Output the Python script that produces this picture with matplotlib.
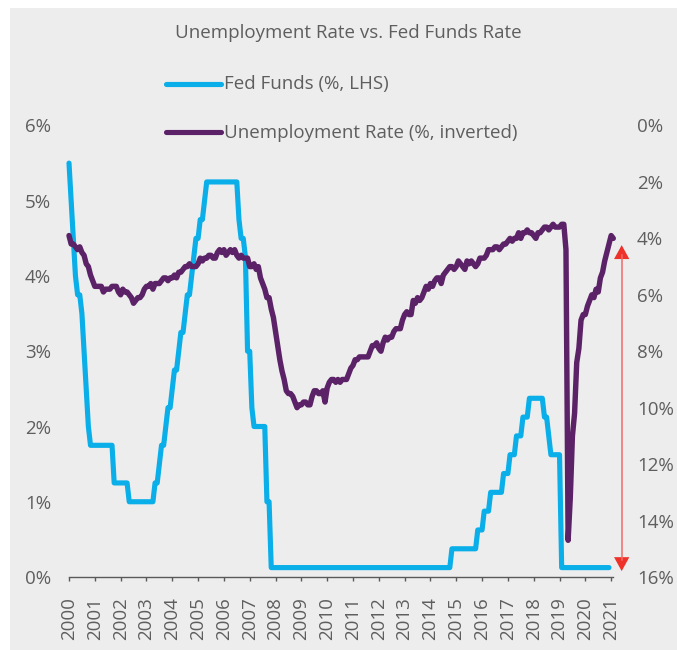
import matplotlib
matplotlib.use("Agg")
import matplotlib.pyplot as plt
from matplotlib.patches import Rectangle
from matplotlib.lines import Line2D
import numpy as np

plt.rcParams["font.family"] = ["Open Sans", "DejaVu Sans"]

# ---- data (monthly points, one tick per 12 months) ----
years = [str(y) for y in range(2000, 2022)]

# US unemployment rate, %, monthly (Dec-2000 ... Jan-2022)
unemp_2000 = [3.9]
unemp_2001 = [4.2, 4.2, 4.3, 4.4, 4.3, 4.5, 4.6, 4.9, 5.0, 5.3, 5.5, 5.7]
unemp_2002 = [5.7, 5.7, 5.7, 5.9, 5.8, 5.8, 5.8, 5.7, 5.7, 5.7, 5.9, 6.0]
unemp_2003 = [5.8, 5.9, 5.9, 6.0, 6.1, 6.3, 6.2, 6.1, 6.1, 6.0, 5.8, 5.7]
unemp_2004 = [5.7, 5.6, 5.8, 5.6, 5.6, 5.6, 5.5, 5.4, 5.4, 5.5, 5.4, 5.4]
unemp_2005 = [5.3, 5.4, 5.2, 5.2, 5.1, 5.0, 5.0, 4.9, 5.0, 5.0, 5.0, 4.9]
unemp_2006 = [4.7, 4.8, 4.7, 4.7, 4.6, 4.6, 4.7, 4.7, 4.5, 4.4, 4.5, 4.4]
unemp_2007 = [4.6, 4.5, 4.4, 4.5, 4.4, 4.6, 4.7, 4.6, 4.7, 4.7, 4.7, 5.0]
unemp_2008 = [5.0, 4.9, 5.1, 5.0, 5.4, 5.6, 5.8, 6.1, 6.1, 6.5, 6.8, 7.3]
unemp_2009 = [7.8, 8.3, 8.7, 9.0, 9.4, 9.5, 9.5, 9.6, 9.8, 10.0, 9.9, 9.9]
unemp_2010 = [9.8, 9.8, 9.9, 9.9, 9.6, 9.4, 9.4, 9.5, 9.5, 9.4, 9.8, 9.3]
unemp_2011 = [9.1, 9.0, 9.0, 9.1, 9.0, 9.1, 9.0, 9.0, 9.0, 8.8, 8.6, 8.5]
unemp_2012 = [8.3, 8.3, 8.2, 8.2, 8.2, 8.2, 8.2, 8.0, 7.8, 7.8, 7.7, 7.9]
unemp_2013 = [8.0, 7.7, 7.5, 7.6, 7.5, 7.5, 7.3, 7.2, 7.2, 7.2, 6.9, 6.7]
unemp_2014 = [6.6, 6.7, 6.7, 6.2, 6.3, 6.1, 6.2, 6.1, 5.9, 5.7, 5.8, 5.6]
unemp_2015 = [5.7, 5.5, 5.4, 5.4, 5.6, 5.3, 5.2, 5.1, 5.0, 5.0, 5.1, 5.0]
unemp_2016 = [4.8, 4.9, 5.0, 5.1, 4.8, 4.9, 4.8, 4.9, 5.0, 4.9, 4.7, 4.7]
unemp_2017 = [4.7, 4.6, 4.4, 4.4, 4.4, 4.3, 4.3, 4.4, 4.3, 4.2, 4.2, 4.1]
unemp_2018 = [4.0, 4.1, 4.0, 4.0, 3.8, 4.0, 3.8, 3.8, 3.7, 3.8, 3.8, 3.9]
unemp_2019 = [4.0, 3.8, 3.8, 3.7, 3.6, 3.6, 3.7, 3.6, 3.5, 3.6, 3.6, 3.6]
unemp_2020 = [3.5, 3.5, 4.4, 14.7, 13.2, 11.0, 10.2, 8.4, 7.9, 6.9, 6.7, 6.7]
unemp_2021 = [6.4, 6.2, 6.0, 6.1, 5.8, 5.9, 5.4, 5.2, 4.8, 4.5, 4.2, 3.9]
unemp_2022 = [4.0]

# Fed funds target (mid-point), %, monthly
fed_2001 = [5.5, 5.0, 4.5, 4.0, 3.75, 3.75, 3.5, 3.0, 2.5, 2.0, 1.75]
fed_2002 = [1.75] * 10 + [1.25, 1.25]
fed_2003 = [1.25] * 5 + [1.0] * 7
fed_2004 = [1.0] * 5 + [1.25, 1.25, 1.5, 1.75, 1.75, 2.0, 2.25]
fed_2005 = [2.25, 2.5, 2.75, 2.75, 3.0, 3.25, 3.25, 3.5, 3.75, 3.75, 4.0, 4.25]
fed_2006 = [4.5, 4.5, 4.75, 4.75, 5.0] + [5.25] * 7
fed_2007 = [5.25] * 8 + [4.75, 4.5, 4.5, 4.25]
fed_2008 = [3.0, 3.0, 2.25, 2.0, 2.0, 2.0, 2.0, 2.0, 2.0, 1.0, 1.0, 0.125]
fed_2009_2014 = [0.125] * 72
fed_2015 = [0.125] * 11 + [0.375]
fed_2016 = [0.375] * 11 + [0.625]
fed_2017 = [0.625, 0.625, 0.875, 0.875, 0.875, 1.125, 1.125, 1.125, 1.125, 1.125, 1.125, 1.375]
fed_2018 = [1.375, 1.375, 1.625, 1.625, 1.625, 1.875, 1.875, 1.875, 2.125, 2.125, 2.125, 2.375]
fed_2019 = [2.375] * 6 + [2.125, 2.125, 1.875, 1.625, 1.625, 1.625]
fed_2020 = [1.625, 1.625] + [0.125] * 10
fed_2021 = [0.125] * 12
fed_2022 = [0.125]

unemp = (unemp_2000 + unemp_2001 + unemp_2002 + unemp_2003 + unemp_2004 + unemp_2005
         + unemp_2006 + unemp_2007 + unemp_2008 + unemp_2009 + unemp_2010 + unemp_2011
         + unemp_2012 + unemp_2013 + unemp_2014 + unemp_2015 + unemp_2016 + unemp_2017
         + unemp_2018 + unemp_2019 + unemp_2020 + unemp_2021 + unemp_2022)
fed = (fed_2001 + fed_2002 + fed_2003 + fed_2004 + fed_2005 + fed_2006 + fed_2007
       + fed_2008 + fed_2009_2014 + fed_2015 + fed_2016 + fed_2017 + fed_2018
       + fed_2019 + fed_2020 + fed_2021 + fed_2022)

left_ticks = [0, 1, 2, 3, 4, 5, 6]
right_ticks = [0, 2, 4, 6, 8, 10, 12, 14, 16]

# ---- styling ----
W, H = 677, 650
BLUE = "#0AAEE8"
PURPLE = "#5C2268"
TEXT = "#5E5E5E"
AXIS = "#595959"
FS = 13.5


def fx(px):
    return px / W


def fy(py):
    return 1 - py / H


fig = plt.figure(figsize=(W / 100, H / 100), dpi=100)
fig.patch.set_facecolor("white")
fig.add_artist(Rectangle((fx(10), 0), 1 - fx(10), fy(8), transform=fig.transFigure,
                         facecolor="#EDEDED", edgecolor="none", zorder=-10))

ax = fig.add_axes([fx(69), fy(577), (613.3 - 69) / W, (577 - 125.5) / H])
ax.patch.set_visible(False)
ax2 = ax.twinx()
ax2.patch.set_visible(False)

x_fed = np.arange(len(fed))
x_un = np.arange(len(unemp))

ax.plot(x_fed, fed, color=BLUE, lw=3.7, solid_capstyle="round",
        solid_joinstyle="round", clip_on=False, zorder=3)
ax2.plot(x_un, unemp, color=PURPLE, lw=3.9, solid_capstyle="round",
         solid_joinstyle="round", clip_on=False, zorder=3)

ax.set_xlim(0, len(unemp) - 1)
ax.set_ylim(0, 6)
ax2.set_ylim(16, 0)

ax.set_xticks(np.arange(len(years)) * 12)
ax.set_xticklabels(years, rotation=90)
ax.set_yticks(left_ticks)
ax.set_yticklabels([f"{v}%" for v in left_ticks])
ax2.set_yticks(right_ticks)
ax2.set_yticklabels([f"{v}%" for v in right_ticks])

for a in (ax, ax2):
    for s in ("top", "left", "right"):
        a.spines[s].set_visible(False)
ax2.spines["bottom"].set_visible(False)
ax.spines["bottom"].set_color(AXIS)
ax.spines["bottom"].set_linewidth(1.0)

ax.tick_params(axis="x", direction="out", length=3, width=1.0, color=AXIS,
               labelsize=FS, labelcolor=TEXT, pad=11.5)
ax.tick_params(axis="y", length=0, labelsize=FS, labelcolor=TEXT, pad=13)
ax2.tick_params(axis="y", length=0, labelsize=FS, labelcolor=TEXT, pad=17)

# double-headed arrow beside the unemployment axis
xa = len(unemp) - 1 + 3.9
ax2.plot([xa, xa], [4.6, 15.4], color="#F06B68", lw=1.1, clip_on=False, zorder=4)
ax2.annotate("", xy=(xa, 4.24), xytext=(xa, 15.79), annotation_clip=False,
             arrowprops=dict(arrowstyle="<|-|>,head_length=1.0,head_width=0.55",
                             mutation_scale=10, color="#EE3129", lw=0.01,
                             shrinkA=0, shrinkB=0))

# title
fig.text(fx(348), fy(38.3), "Unemployment Rate vs. Fed Funds Rate", ha="center",
         va="baseline", fontsize=FS, color=TEXT)

# legend
for yline, ybase, col, label in [(84.3, 89.3, BLUE, "Fed Funds (%, LHS)"),
                                 (132.3, 138.3, PURPLE, "Unemployment Rate (%, inverted)")]:
    fig.add_artist(Line2D([fx(166), fx(221)], [fy(yline), fy(yline)],
                          transform=fig.transFigure, color=col, lw=3.7,
                          solid_capstyle="round"))
    fig.text(fx(224.5), fy(ybase), label, ha="left", va="baseline",
             fontsize=FS, color=TEXT)

fig.savefig("out.png", dpi=100, facecolor=fig.get_facecolor())
